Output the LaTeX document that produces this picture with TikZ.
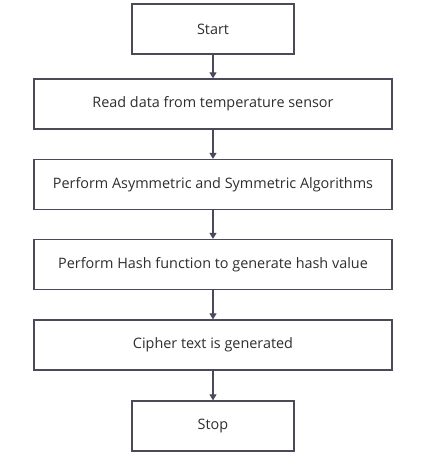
\documentclass[tikz,border=0pt]{standalone}
\usepackage{fontspec}
\setmainfont{Open Sans}
\usetikzlibrary{arrows.meta}
\definecolor{boxline}{HTML}{4A4A58}
\definecolor{txt}{HTML}{2E2E2E}
\begin{document}
\begin{tikzpicture}[x=1pt,y=-1pt,
  box/.style={draw=boxline,line width=1.3pt,fill=white,inner sep=0pt,text=txt,
    font=\fontsize{14.4}{16}\selectfont},
  flow/.style={draw=boxline,line width=1.2pt,-{Triangle[length=6pt,width=7pt]}}]
\useasboundingbox (0,0) rectangle (432,457);
\node[box,minimum width=162pt,minimum height=50pt] (start) at (213,29) {Start};
\node[box,minimum width=358pt,minimum height=50pt] (read) at (213,104) {Read data from temperature sensor};
\node[box,minimum width=358pt,minimum height=50pt] (asym) at (213,184.5) {Perform Asymmetric and Symmetric Algorithms};
\node[box,minimum width=358pt,minimum height=50pt] (hash) at (213,264.5) {Perform Hash function to generate hash value};
\node[box,minimum width=358pt,minimum height=50pt] (ciph) at (213,345) {Cipher text is generated};
\node[box,minimum width=162pt,minimum height=50pt] (stop) at (213,426) {Stop};
\draw[flow] (start) -- (read);
\draw[flow] (read) -- (asym);
\draw[flow] (asym) -- (hash);
\draw[flow] (hash) -- (ciph);
\draw[flow] (ciph) -- (stop);
\end{tikzpicture}
\end{document}
